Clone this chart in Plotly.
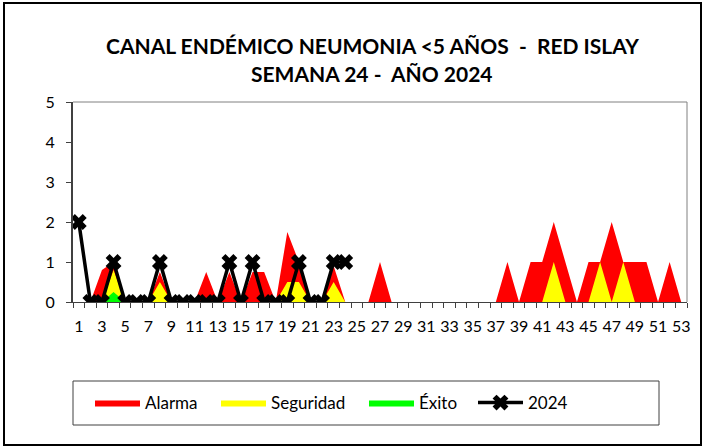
import plotly.graph_objects as go

weeks = list(range(1, 54))
alarma = [0, 0, 0.8, 1, 0, 0, 0, 0.75, 0, 0, 0, 0.75, 0, 0.75, 0, 0.75, 0.75, 0,
          1.75, 1, 0, 0, 0.9, 0, 0, 0, 1, 0, 0, 0, 0, 0, 0, 0, 0, 0, 0, 1, 0,
          1, 1, 2, 1, 0, 1, 1, 2, 1, 1, 1, 0, 1, 0]
seguridad = [0, 0, 0, 0.8, 0, 0, 0, 0.5, 0, 0, 0, 0, 0, 0, 0, 0, 0, 0,
             0.5, 0.5, 0, 0, 0.5, 0, 0, 0, 0, 0, 0, 0, 0, 0, 0, 0, 0, 0, 0, 0, 0,
             0, 0, 1, 0, 0, 0, 1, 0, 1, 0, 0, 0, 0, 0]
exito = [0, 0, 0, 0.25] + [0] * 49
weeks_2024 = list(range(1, 25))
casos_2024 = [2, 0, 0, 1, 0, 0, 0, 1, 0, 0, 0, 0, 0, 1, 0, 1, 0, 0, 0, 1, 0, 0, 1, 1]
x_labels = [str(w) for w in range(1, 54, 2)]
title1 = "CANAL ENDÉMICO NEUMONIA <5 AÑOS  -  RED ISLAY"
title2 = "SEMANA 24 -  AÑO 2024"

FONT = "Lato"
fig = go.Figure()
for name, vals, col, lg in [("Alarma", alarma, "#FF0000", "legend"),
                            ("Seguridad", seguridad, "#FFFF00", "legend2"),
                            ("Éxito", exito, "#00FF00", "legend3")]:
    fig.add_trace(go.Scatter(x=weeks, y=vals, name=name, mode="lines",
                             fill="tozeroy", fillcolor=col, legend=lg,
                             line=dict(color=col, width=0)))
fig.add_trace(go.Scatter(x=weeks_2024, y=casos_2024, name="2024", mode="lines+markers",
                         legend="legend4",
                         line=dict(color="black", width=3.5),
                         marker=dict(symbol="x", size=14, color="black")))


def leg(px):
    return dict(orientation="h", x=(px - 73) / 614, y=-0.505, xanchor="left",
                yanchor="middle", font=dict(size=17), bgcolor="rgba(0,0,0,0)",
                itemwidth=45)


fig.update_layout(
    width=704, height=447,
    margin=dict(l=73, r=17, t=102, b=145),
    paper_bgcolor="white", plot_bgcolor="white",
    font=dict(family=FONT, size=16, color="black"),
    showlegend=True,
    legend=leg(90), legend2=leg(216), legend3=leg(364), legend4=leg(473),
    xaxis=dict(range=[0.5, 53.5], tickmode="array",
               tickvals=list(range(1, 54, 2)), ticktext=x_labels,
               ticks="", showgrid=False, zeroline=False, ticklabelstandoff=10,
               showline=True, linecolor="#404040", linewidth=1,
               minor=dict(tickmode="array", tickvals=[w + 0.5 for w in range(0, 54)],
                          ticks="outside", ticklen=5, tickcolor="#404040", showgrid=False),
               tickfont=dict(size=16), fixedrange=True),
    yaxis=dict(range=[0, 5], dtick=1, ticks="outside", ticklen=5, tickcolor="#404040",
               showgrid=False, zeroline=False, showline=True, linecolor="#404040",
               ticklabelstandoff=8,
               linewidth=2, tickfont=dict(size=16), fixedrange=True),
    shapes=[
        dict(type="line", xref="paper", yref="paper", x0=0, x1=1, y0=1, y1=1,
             line=dict(color="#808080", width=1)),
        dict(type="line", xref="paper", yref="paper", x0=1, x1=1, y0=0, y1=1,
             line=dict(color="#808080", width=1)),
        dict(type="rect", xref="paper", yref="paper", x0=0, x1=(659 - 73) / 614,
             y0=(302 - 425) / 200, y1=(302 - 381) / 200,
             line=dict(color="#404040", width=1)),
        dict(type="rect", xref="paper", yref="paper", x0=(4 - 73) / 614, x1=(701 - 73) / 614,
             y0=(302 - 445) / 200, y1=(302 - 3) / 200,
             line=dict(color="black", width=2)),
    ],
    annotations=[
        dict(text="<b>" + title1 + "</b>", xref="paper", yref="paper",
             x=(372 - 73) / 614, y=(302 - 45) / 200, showarrow=False,
             xanchor="center", yanchor="middle", font=dict(size=21)),
        dict(text="<b>" + title2 + "</b>", xref="paper", yref="paper",
             x=(372 - 73) / 614, y=(302 - 73) / 200, showarrow=False,
             xanchor="center", yanchor="middle", font=dict(size=21)),
    ],
)
fig.write_html("out.html", config={"displayModeBar": False},
               post_script="document.body.style.margin='0';document.body.style.padding='0';")
